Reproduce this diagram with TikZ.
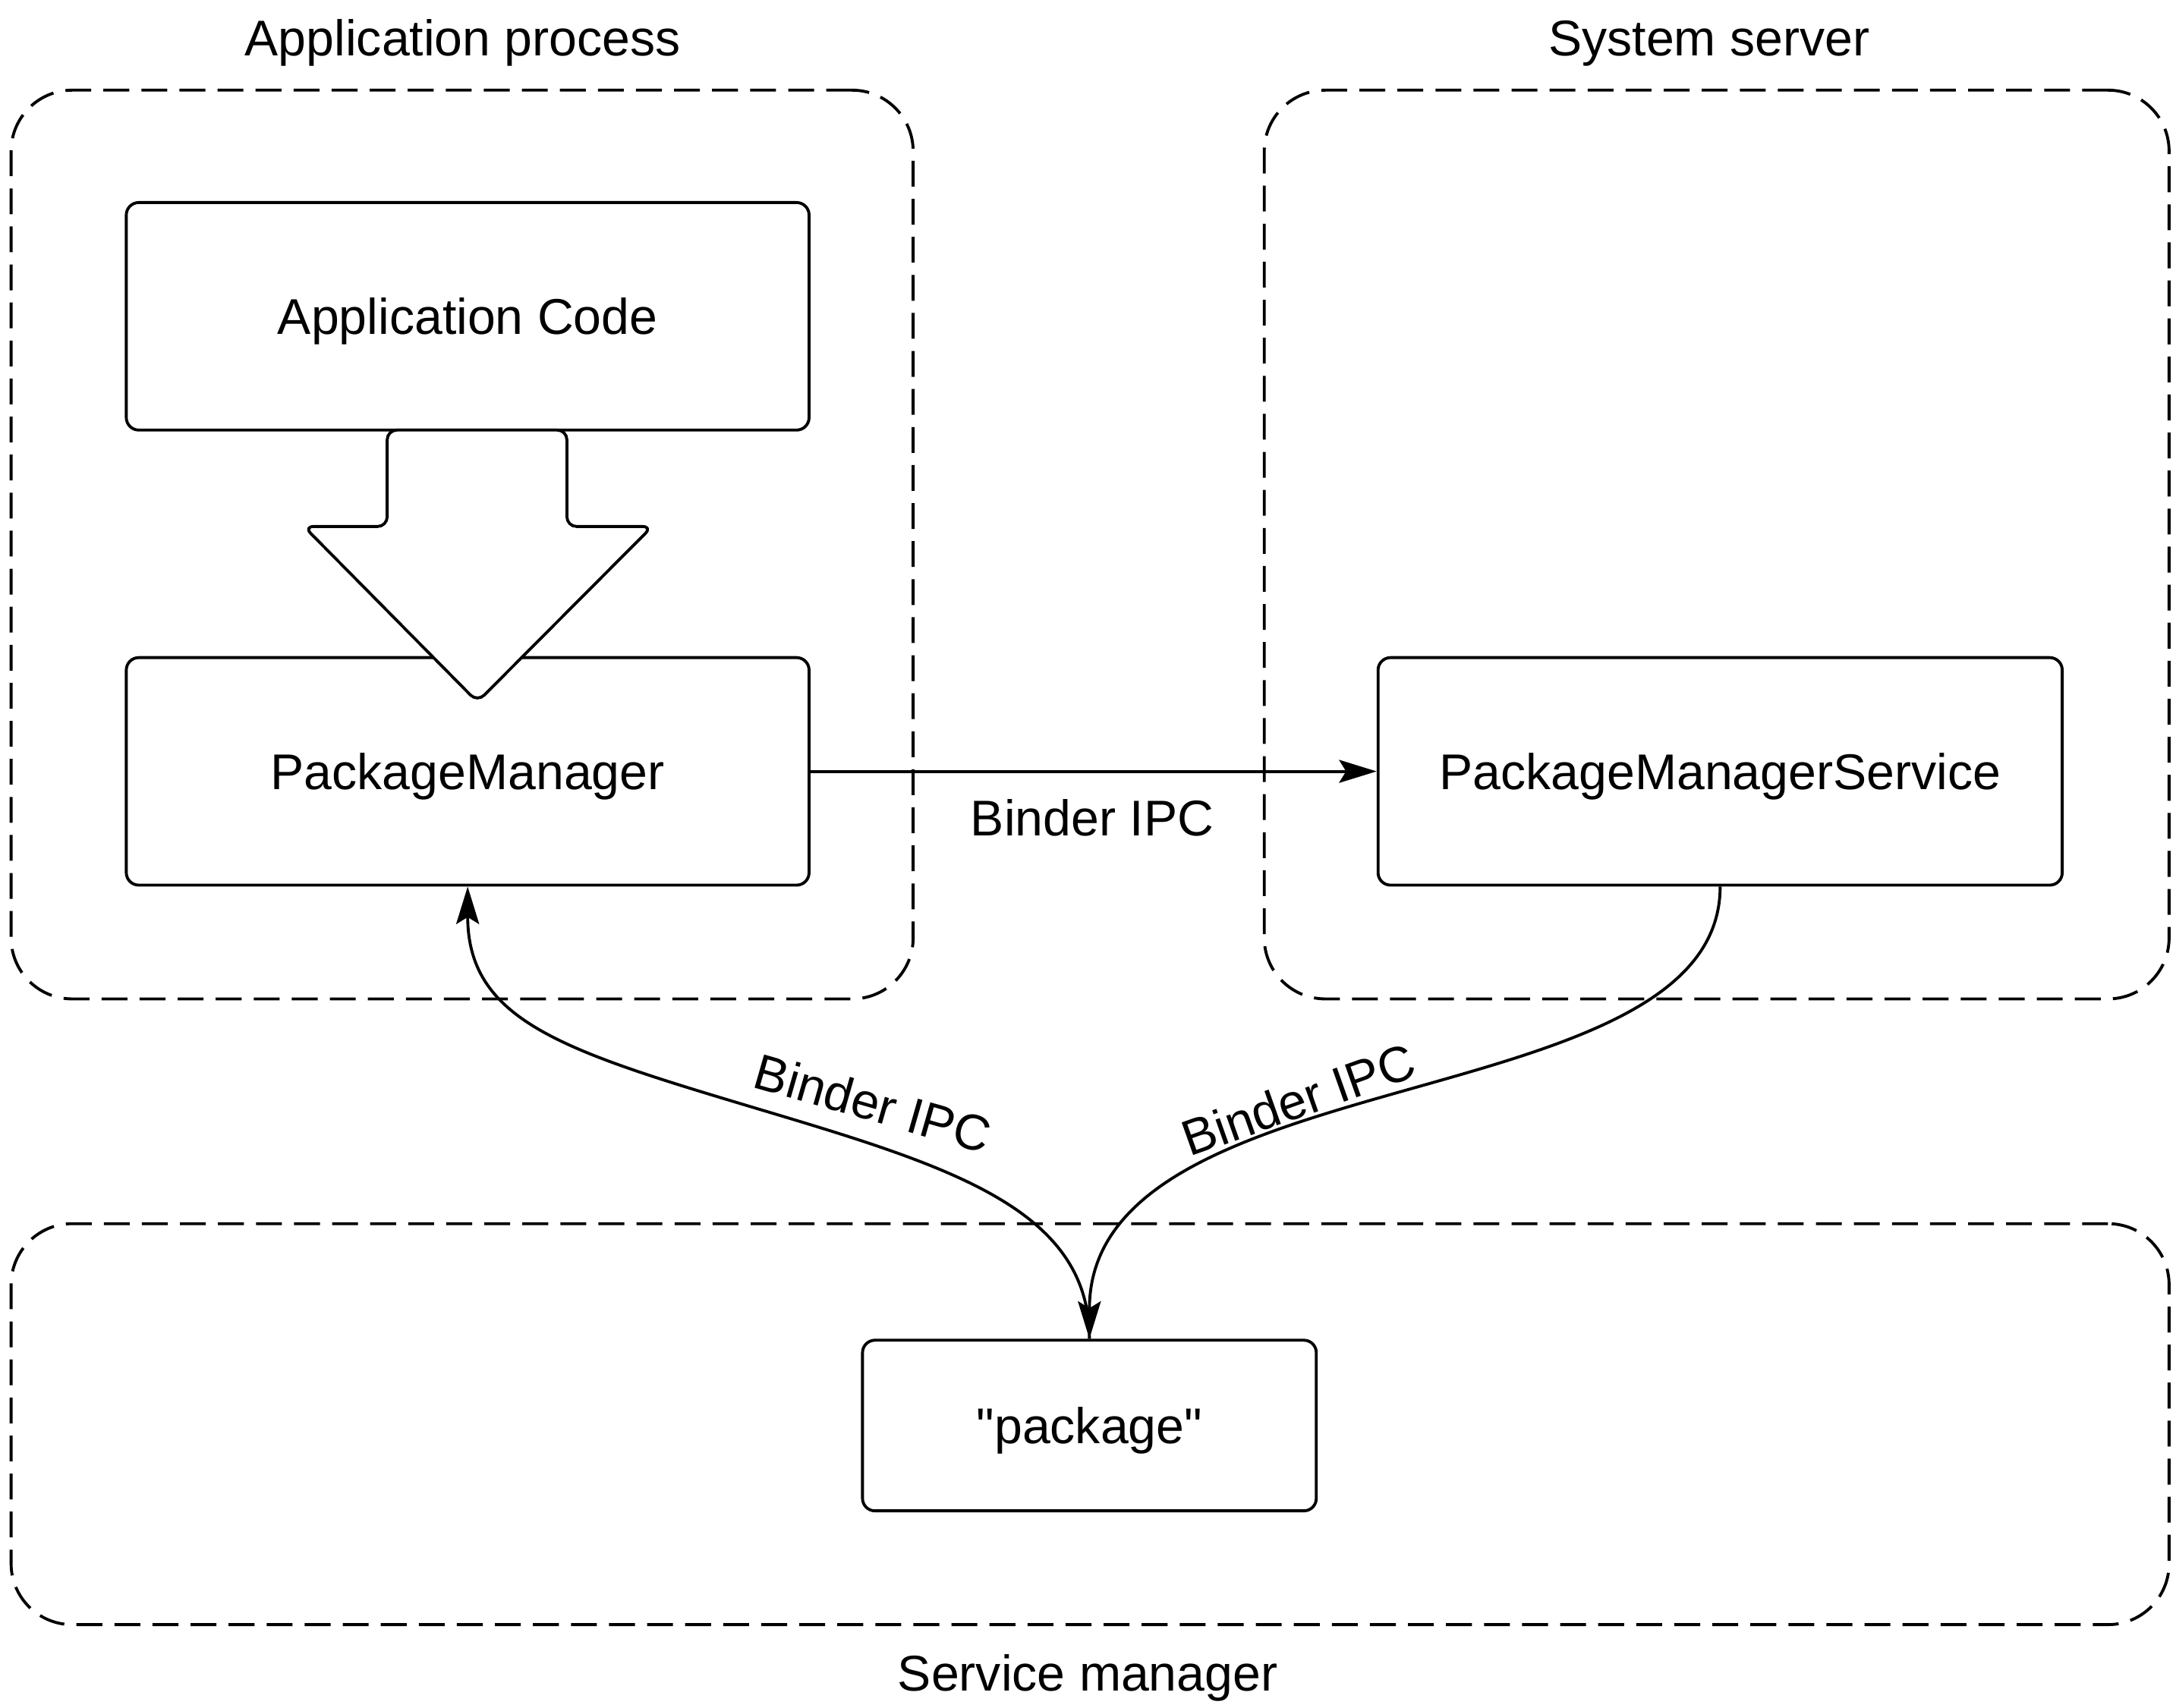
\documentclass[tikz,border=0pt]{standalone}
\usepackage{fontspec}
\setmainfont{Liberation Sans}
\usetikzlibrary{arrows.meta, positioning, calc}

\begin{document}
\begin{tikzpicture}[font=\fontsize{10.3pt}{12pt}\selectfont, line width=0.6pt,
        group/.style={rectangle, rounded corners=4.4mm, draw, dash pattern=on 5.3pt off 2.5pt, inner sep=0pt},
        box/.style={rectangle, rounded corners=0.9mm, draw, fill=white, inner sep=0pt, text depth=0pt},
        caption/.style={anchor=base, inner sep=0pt},
        ipc/.style={-{Stealth[length=2.7mm, width=1.65mm, inset=0.5mm]}},
        fatarrow/.style={draw, fill=white, rounded corners=0.7mm}
    ]
    \useasboundingbox (0,0) rectangle (15.68,-12.31);

    \node[group, minimum width=6.50cm, minimum height=6.55cm] (appproc) at (3.33,-3.925) {};
    \node[group, minimum width=6.52cm, minimum height=6.55cm] (sysserver) at (12.37,-3.925) {};
    \node[group, minimum width=15.55cm, minimum height=2.89cm] (servmgr) at (7.855,-10.265) {};
    \node[caption] (appproctitle) at (3.335,-0.401) {Application process};
    \node[caption] (sysservertitle) at (12.315,-0.401) {System server};
    \node[caption] (servmgrtitle) at (7.838,-12.187) {Service manager};

    \node[box, minimum width=4.92cm, minimum height=1.64cm] (appcode) at (3.37,-2.28) {Application Code};
    \node[box, minimum width=4.92cm, minimum height=1.64cm] (pm) at (3.37,-5.56) {PackageManager};
    \node[box, minimum width=4.93cm, minimum height=1.64cm] (pms) at (12.395,-5.56) {PackageManagerService};
    \node[box, minimum width=3.27cm, minimum height=1.23cm] (pkg) at (7.85,-10.275) {\textquotedbl package\textquotedbl};

    \draw[fatarrow] (2.79,-3.10) -- (2.79,-3.795) -- (2.19,-3.795) -- (3.44,-5.06)
        -- (4.70,-3.795) -- (4.085,-3.795) -- (4.085,-3.10) -- cycle;

    \draw[ipc] (pm.east) -- (pms.west);
    \node[caption] (ipcmid) at (7.87,-6.025) {Binder IPC};

    \coordinate (lmid) at (5.62,-8.04);
    \draw[ipc] (pkg.north) .. controls +(0,0.9) and +(1.3,-0.39) .. (lmid)
        .. controls +(-1.5,0.45) and +(0,-1.0) .. (pm.south);
    \draw[ipc] (pms.south) .. controls +(0,-1.69) and +(0,2.045) .. (pkg.north);
    \node[rotate=-16] (ipcleft) at (6.29,-7.95) {Binder IPC};
    \node[rotate=19.5] (ipcright) at (9.355,-7.925) {Binder IPC};
\end{tikzpicture}
\end{document}
